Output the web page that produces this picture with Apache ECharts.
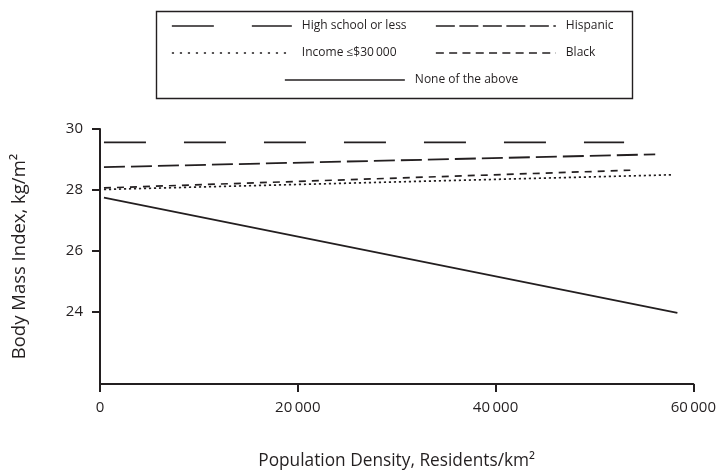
<!DOCTYPE html>
<html>
<head>
<meta charset="utf-8">
<script src="https://cdn.jsdelivr.net/npm/echarts@6/dist/echarts.min.js"></script>
<style>
html,body{margin:0;padding:0;background:#fff;}
#c{width:719px;height:475px;}
</style>
</head>
<body>
<div id="c"></div>
<script>
// ---- data ----
const seriesNames = ['High school or less', 'Hispanic', 'Income \u2264$30\u2009000', 'Black', 'None of the above'];
const hsX = [400, 53000];        const hsY = [29.56, 29.56];
const hispX = [400, 56150];      const hispY = [28.75, 29.17];
const incX = [400, 57860];       const incY = [28.02, 28.50];
const blackX = [400, 53630];     const blackY = [28.07, 28.65];
const noneX = [400, 58390];      const noneY = [27.75, 23.98];
const xTicks = [0, 20000, 40000, 60000];
const yTicks = [24, 26, 28, 30];

const ink = '#231f20';
const font = '"Open Sans", "Noto Sans", sans-serif';
function pairs(xs, ys) { return xs.map((x, i) => [x, ys[i]]); }
function fmtX(v) { return v === 0 ? '0' : String(Math.floor(v / 1000)) + '\u2009' + String(v % 1000).padStart(3, '0'); }

const styles = [
  { type: [42, 38], width: 1.8, legendType: [42, 38] },
  { type: [21, 6], width: 1.8, legendType: [19, 4.5] },
  { type: [2.2, 2.8], width: 1.7, legendType: [2.2, 5.8] },
  { type: [7, 6], width: 1.7, legendType: [8, 5.3] },
  { type: 'solid', width: 1.8, legendType: 'solid' }
];
const datas = [pairs(hsX, hsY), pairs(hispX, hispY), pairs(incX, incY), pairs(blackX, blackY), pairs(noneX, noneY)];

const legendPos = [
  { left: 171, top: 20 },
  { left: 435, top: 20 },
  { left: 171, top: 47 },
  { left: 435, top: 47 },
  { left: 284, top: 74 }
];

const chart = echarts.init(document.getElementById('c'), null, { renderer: 'canvas' });
chart.setOption({
  animation: false,
  backgroundColor: '#fff',
  grid: { left: 100, right: 23, top: 129, bottom: 88.3, containLabel: false },
  graphic: [{
    type: 'rect', left: 154, top: 9, z: 0,
    shape: { width: 476, height: 87 },
    style: { fill: 'none', stroke: ink, lineWidth: 1.4 }
  }],
  legend: seriesNames.map((n, i) => ({
    data: [n], left: legendPos[i].left, top: legendPos[i].top, padding: 0,
    itemWidth: 120, itemHeight: 14, orient: 'horizontal',
    selectedMode: false,
    itemStyle: { opacity: 0 },
    lineStyle: { type: styles[i].legendType, width: 1.7, color: ink },
    textStyle: { fontFamily: font, fontSize: 12, color: ink, padding: [0, 0, 0, 5] }
  })),
  xAxis: {
    type: 'value', min: 0, max: 60000, interval: 20000,
    name: 'Population Density, Residents/km\u00B2', nameLocation: 'middle', nameGap: 69,
    nameTextStyle: { fontFamily: font, fontSize: 17.3, color: ink },
    axisLine: { show: true, lineStyle: { color: ink, width: 2 } },
    axisTick: { show: true, length: 8, lineStyle: { color: ink, width: 2 } },
    axisLabel: { margin: 16, fontFamily: font, fontSize: 15, color: ink, formatter: fmtX, showMaxLabel: true },
    splitLine: { show: false }
  },
  yAxis: {
    type: 'value', min: 21.65, max: 30,
    name: 'Body Mass Index, kg/m\u00B2', nameLocation: 'middle', nameGap: 71,
    nameTextStyle: { fontFamily: font, fontSize: 18.5, color: ink },
    axisLine: { show: true, onZero: false, lineStyle: { color: ink, width: 2 } },
    axisTick: { show: true, length: 8, customValues: yTicks, lineStyle: { color: ink, width: 2 } },
    axisLabel: { margin: 17, fontFamily: font, fontSize: 15, color: ink, customValues: yTicks },
    splitLine: { show: false }
  },
  series: seriesNames.map((n, i) => ({
    name: n, type: 'line', data: datas[i], symbol: 'none', showSymbol: false,
    lineStyle: { color: ink, width: styles[i].width, type: styles[i].type },
    itemStyle: { color: ink },
    z: 3
  }))
});
</script>
</body>
</html>
